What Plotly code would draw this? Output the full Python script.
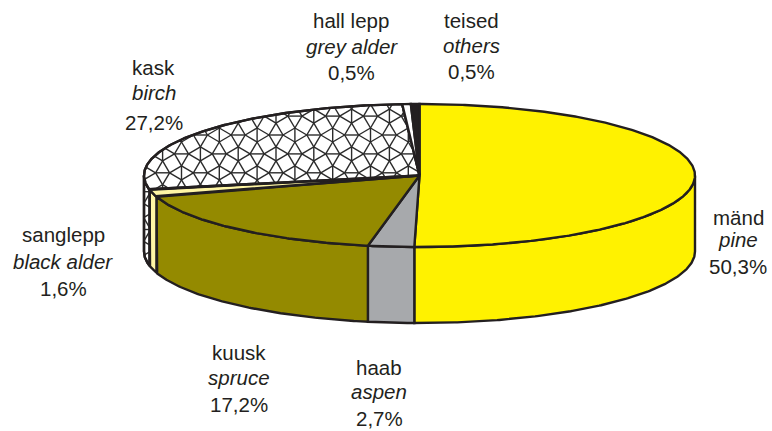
import numpy as np
import plotly.graph_objects as go

# ---- data ----
names_et = ["mänd", "haab", "kuusk", "sanglepp", "kask", "hall lepp", "teised"]
names_en = ["pine", "aspen", "spruce", "black alder", "birch", "grey alder", "others"]
shares = [50.3, 2.7, 17.2, 1.6, 27.2, 0.5, 0.5]
share_labels = ["50,3%", "2,7%", "17,2%", "1,6%", "27,2%", "0,5%", "0,5%"]
colors = ["#FFF200", "#A7A9AC", "#948A00", "#FFF6A5", "#FFFFFF", "#FFFFFF", "#231F20"]
patterned = ["kask"]

# ---- label placement (centre x, y of the three lines) ----
label_pos = {
    "mänd": [(738, 217), (738, 239), (738, 266)],
    "haab": [(379, 367), (379, 391), (379, 418)],
    "kuusk": [(239, 352), (239, 377), (239, 404)],
    "sanglepp": [(63, 234), (63, 261), (63, 288)],
    "kask": [(153, 67), (154, 92), (154, 122)],
    "hall lepp": [(351, 20), (352, 46), (351, 72)],
    "teised": [(471, 20), (471, 45), (471, 71)],
}

CX, CY, RX, RY, DEPTH = 419.5, 175.5, 275.5, 71.5, 76
INK = "#231F20"
W, H = 772, 431


def rim(t, dz=0):
    t = np.radians(t)
    return CX + RX * np.sin(t), CY - RY * np.cos(t) + dz


def arc(a, b, dz=0):
    n = max(2, int(abs(b - a) * 2) + 2)
    return rim(np.linspace(a, b, n), dz)


def snub_edges(p=18.9, x0=219.3, y0=135.0):
    a = p * 0.37
    c = p - a
    segs = []
    for i in range(-2, 45):
        for j in range(-10, 22):
            if (i + j) % 2:
                continue
            x = x0 + (i - 4) * p
            y = y0 + j * p
            segs.append(((x, y - a), (x, y + a)))
            segs.append(((x + p - a, y), (x + p + a, y)))
            for s in (-1, 1):
                v = (x, y + s * a)
                for q in (-1, 1):
                    segs.append((v, (x + q * c, y)))
                    segs.append((v, (x + q * a, y + s * p)))
    return segs


def inside(x, y, px, py):
    hit = False
    for k in range(len(px) - 1):
        if (py[k] > y) != (py[k + 1] > y):
            if x < px[k] + (y - py[k]) * (px[k + 1] - px[k]) / (py[k + 1] - py[k]):
                hit = not hit
    return hit


def clip_polygon(seg, px, py):
    """Parts of one segment that lie inside a polygon of any shape."""
    (x1, y1), (x2, y2) = seg
    dx, dy = x2 - x1, y2 - y1
    ts = [0.0, 1.0]
    for k in range(len(px) - 1):
        ex, ey = px[k + 1] - px[k], py[k + 1] - py[k]
        den = dx * ey - dy * ex
        if abs(den) < 1e-12:
            continue
        t = ((px[k] - x1) * ey - (py[k] - y1) * ex) / den
        u = ((px[k] - x1) * dy - (py[k] - y1) * dx) / den
        if 0 < t < 1 and 0 <= u <= 1:
            ts.append(t)
    ts.sort()
    parts = []
    for t0, t1 in zip(ts[:-1], ts[1:]):
        tm = (t0 + t1) / 2
        if inside(x1 + tm * dx, y1 + tm * dy, px, py):
            parts.append(((x1 + t0 * dx, y1 + t0 * dy), (x1 + t1 * dx, y1 + t1 * dy)))
    return parts


def pattern_trace(px, py):
    xs, ys = [], []
    for s in snub_edges():
        mx, my = (s[0][0] + s[1][0]) / 2, (s[0][1] + s[1][1]) / 2
        if mx < px.min() - 30 or mx > px.max() + 30 or my < py.min() - 30 or my > py.max() + 30:
            continue
        for c in clip_polygon(s, px, py):
            xs += [c[0][0], c[1][0], None]
            ys += [c[0][1], c[1][1], None]
    return go.Scatter(x=xs, y=ys, mode="lines", line=dict(color="#2B2B2B", width=1.4),
                      hoverinfo="skip", showlegend=False)


def outline(x, y):
    return go.Scatter(x=x, y=y, mode="lines", line=dict(color=INK, width=2.4),
                      hoverinfo="skip", showlegend=False)


def poly(x, y, fill):
    return go.Scatter(x=x, y=y, mode="lines", fill="toself", fillcolor=fill,
                      line=dict(color=INK, width=2.4, shape="linear"),
                      hoverinfo="skip", showlegend=False)


fig = go.Figure()
edges = np.concatenate([[0], np.cumsum(shares)]) * 3.6

# side walls of the slices that face the viewer
for k, name in enumerate(names_et):
    a, b = max(edges[k], 90), min(edges[k + 1], 270)
    if a >= b:
        continue
    tx, ty = arc(a, b)
    bx, by = arc(b, a, DEPTH)
    x = np.concatenate([tx, bx, tx[:1]])
    y = np.concatenate([ty, by, ty[:1]])
    fig.add_trace(poly(x, y, colors[k]))
    if name in patterned:
        fig.add_trace(pattern_trace(x, y))
        fig.add_trace(outline(x, y))

# top faces
for k, name in enumerate(names_et):
    ax, ay = arc(edges[k], edges[k + 1])
    x = np.concatenate([[CX], ax, [CX]])
    y = np.concatenate([[CY], ay, [CY]])
    fig.add_trace(poly(x, y, colors[k]))
    if name in patterned:
        fig.add_trace(pattern_trace(x, y))
        fig.add_trace(outline(x, y))

for et, en, pct in zip(names_et, names_en, share_labels):
    pos = label_pos[et]
    for text, (lx, ly) in zip([et, f"<i>{en}</i>", pct], pos):
        fig.add_annotation(x=lx, y=ly, text=text, showarrow=False, xanchor="center",
                           yanchor="middle",
                           font=dict(family="Liberation Sans, Arial, sans-serif",
                                     size=20.5, color=INK))

fig.update_xaxes(range=[0, W], visible=False)
fig.update_yaxes(range=[H, 0], visible=False)
fig.update_layout(width=W, height=H, margin=dict(l=0, r=0, t=0, b=0),
                  paper_bgcolor="white", plot_bgcolor="white", showlegend=False)
fig.write_html("out.html", config={"displayModeBar": False},
               post_script="document.body.style.margin='0';document.body.style.overflow='hidden';")
